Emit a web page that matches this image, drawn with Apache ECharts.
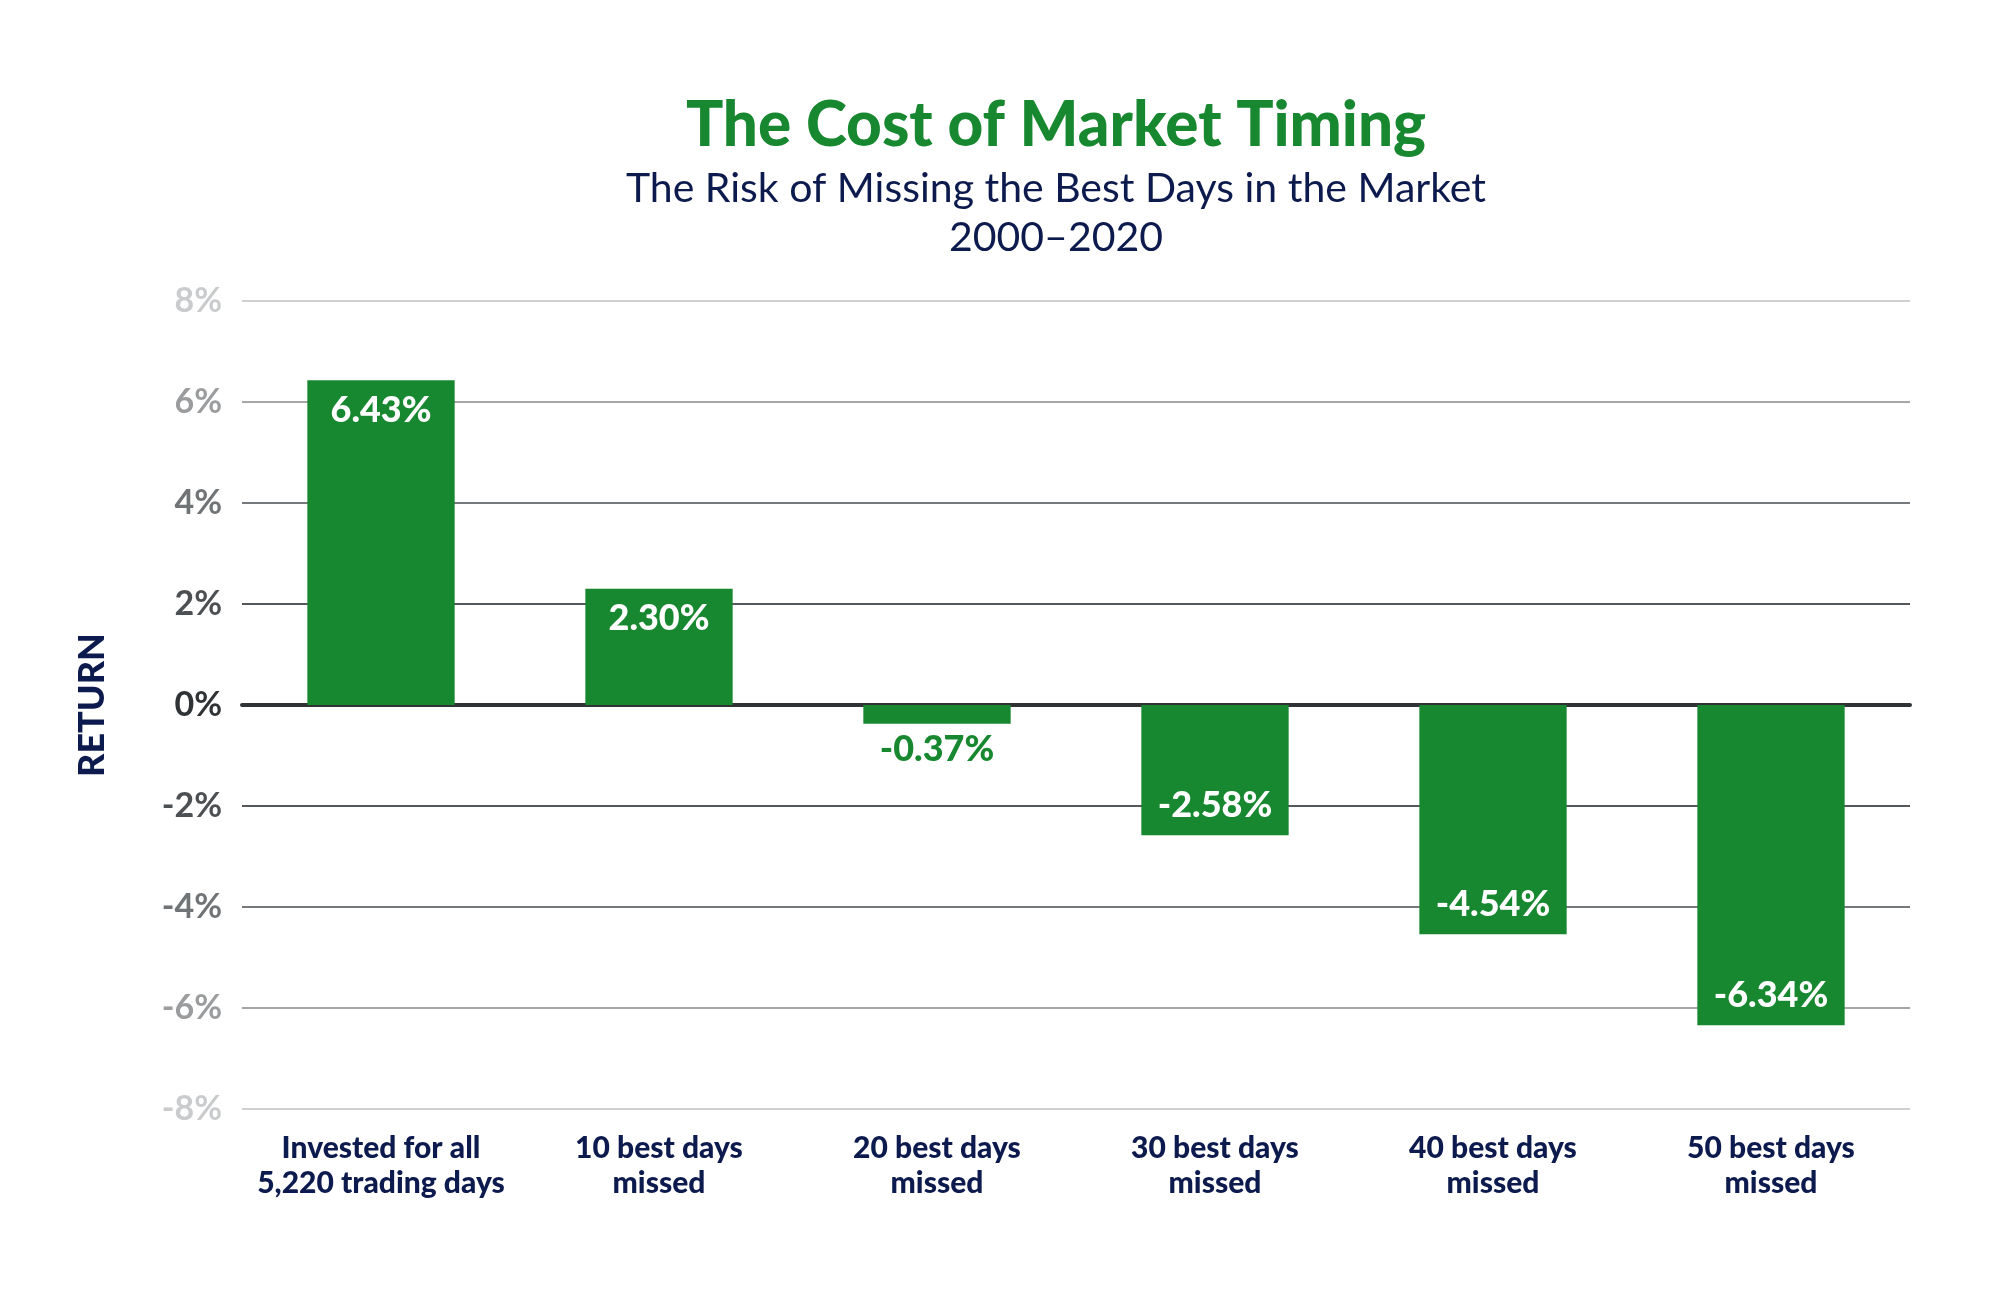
<!DOCTYPE html>
<html>
<head>
<meta charset="utf-8">
<script src="https://cdn.jsdelivr.net/npm/echarts@6/dist/echarts.min.js"></script>
<style>
html,body{margin:0;padding:0;background:#fff;}
#chart{width:2001px;height:1309px;}
</style>
</head>
<body>
<div id="chart"></div>
<script>
const categories = ['Invested for all\n5,220 trading days', '10 best days\nmissed', '20 best days\nmissed', '30 best days\nmissed', '40 best days\nmissed', '50 best days\nmissed'];
const returns = [6.43, 2.30, -0.37, -2.58, -4.54, -6.34];
const yTicks = [-8, -6, -4, -2, 0, 2, 4, 6, 8];
const tickColors = ['#c9cbcc', '#9a9c9e', '#717476', '#4d5053', '#2f3336', '#4d5053', '#717476', '#9a9c9e', '#c9cbcc'];
const lineColors = ['#cfd1d2', '#a4a6a8', '#76797b', '#55585b', '#2f3336', '#55585b', '#76797b', '#a4a6a8', '#cfd1d2'];

const GREEN = '#188830';
const NAVY = '#0c1a4d';
const FONT = 'Lato, "Noto Sans", sans-serif';

const chart = echarts.init(document.getElementById('chart'));
chart.setOption({
  backgroundColor: '#ffffff',
  animation: false,
  title: [
    { text: 'The Cost of Market Timing', left: 1051, top: 90, textAlign: 'center',
      textStyle: { color: GREEN, fontFamily: FONT, fontWeight: 900, fontSize: 62 } },
    { text: 'The Risk of Missing the Best Days in the Market', left: 1051, top: 163, textAlign: 'center',
      textStyle: { color: NAVY, fontFamily: FONT, fontWeight: 'normal', fontSize: 41 } },
    { text: '2000–2020', left: 1051, top: 212, textAlign: 'center',
      textStyle: { color: NAVY, fontFamily: FONT, fontWeight: 'normal', fontSize: 41 } }
  ],
  grid: { left: 242, right: 91, top: 301, bottom: 200, containLabel: false },
  xAxis: {
    type: 'category',
    data: categories,
    axisTick: { show: false },
    axisLine: { show: true, onZero: true, lineStyle: { color: '#2f3336', width: 4 } },
    axisLabel: { interval: 0, color: NAVY, fontFamily: FONT, fontWeight: 900, fontSize: 30, lineHeight: 35, margin: 22 },
    position: 'bottom'
  },
  yAxis: {
    type: 'value',
    min: -8, max: 8, interval: 2,
    name: 'RETURN',
    nameLocation: 'middle',
    nameGap: 132,
    nameRotate: 90,
    nameTextStyle: { color: NAVY, fontFamily: FONT, fontWeight: 900, fontSize: 36 },
    axisLine: { show: false },
    axisTick: { show: false },
    axisLabel: {
      formatter: '{value}%',
      fontFamily: FONT, fontWeight: 'bold', fontSize: 34, margin: 20,
      color: function (v) { return tickColors[yTicks.indexOf(Math.round(v))] || '#777'; }
    },
    splitLine: { show: true, lineStyle: { color: lineColors, width: 2 } }
  },
  series: [{
    type: 'bar',
    barWidth: '53%',
    data: returns.map(function (v) {
      var small = Math.abs(v) < 1;
      return {
        value: v,
        itemStyle: { color: GREEN },
        label: {
          show: true,
          position: v >= 0 ? 'insideTop' : (small ? 'bottom' : 'insideBottom'),
          distance: small ? 8 : 12,
          color: small ? GREEN : '#ffffff'
        }
      };
    }),
    label: {
      show: true,
      fontFamily: FONT, fontWeight: 900, fontSize: 36,
      formatter: function (p) { return p.value.toFixed(2) + '%'; }
    }
  }]
});
</script>
</body>
</html>
